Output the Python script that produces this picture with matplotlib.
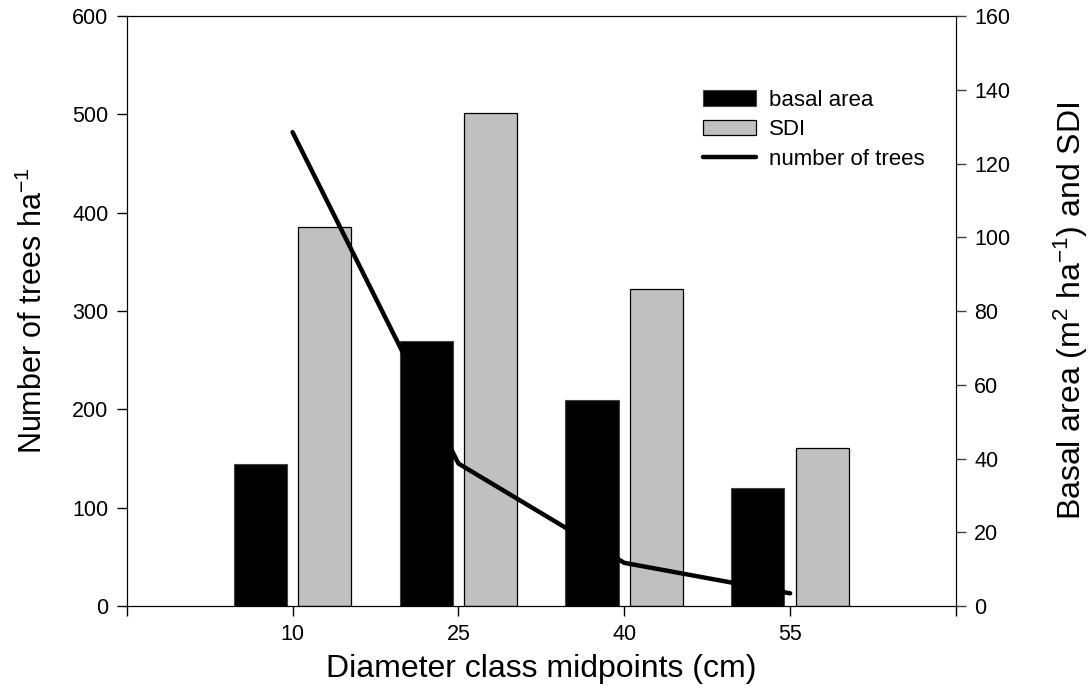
import matplotlib
matplotlib.use("Agg")
import matplotlib.pyplot as plt
import numpy as np

# values
diam_mid = [10, 25, 40, 55]
basal_area = [38.5, 72.0, 56.0, 31.9]      # m2/ha (right axis)
sdi = [102.8, 133.7, 86.0, 42.8]           # right axis
n_trees = [482, 145, 44, 13]               # trees/ha (left axis)

plt.rcParams["font.family"] = ["Liberation Sans", "DejaVu Sans"]
plt.rcParams["mathtext.default"] = "regular"

fig = plt.figure(figsize=(10.92, 6.88), dpi=100)
ax = fig.add_axes([0.116, 0.119, 0.7595, 0.8576])
ax2 = ax.twinx()

x = np.array(diam_mid, dtype=float)
w, off = 4.8, 2.92
b1 = ax2.bar(x - off, basal_area, width=w, color="black", edgecolor="#444444", lw=0.8,
             label="basal area")
b2 = ax2.bar(x + off, sdi, width=w, color="#c0c0c0", edgecolor="black", lw=0.9, label="SDI")
ln, = ax.plot(x, n_trees, color="black", lw=3.2, solid_capstyle="round",
              solid_joinstyle="round", label="number of trees")

# line above bars
ax.set_zorder(ax2.get_zorder() + 1)
ax.patch.set_visible(False)

ax.set_xlim(-5, 70)
ax.set_ylim(0, 600)
ax2.set_ylim(0, 160)
ax.set_xticks([-5, 10, 25, 40, 55, 70])
ax.set_xticklabels(["", "10", "25", "40", "55", ""])
ax.set_yticks(np.arange(0, 601, 100))
ax2.set_yticks(np.arange(0, 161, 20))

for a in (ax, ax2):
    a.tick_params(direction="out", length=7, width=1, labelsize=15.5, pad=6)
ax.tick_params(top=False)
ax2.spines["right"].set_color("#606060")
ax2.tick_params(axis="y", color="#404040")

ax.set_xlabel("Diameter class midpoints (cm)", fontsize=23, labelpad=6)
ax.set_ylabel("Number of trees ha$^{-1}$", fontsize=22, labelpad=17)
ax2.set_ylabel("Basal area (m$^2$ ha$^{-1}$) and SDI", fontsize=23, labelpad=30)

fig.legend(handles=[b1, b2, ln], loc="upper left",
           bbox_to_anchor=(703 / 1092, 1 - 90 / 688), frameon=False, fontsize=16,
           borderpad=0, borderaxespad=0, handlelength=2.4, handleheight=0.7,
           handletextpad=0.55, labelspacing=0.38)

fig.savefig("out.png", dpi=100)
